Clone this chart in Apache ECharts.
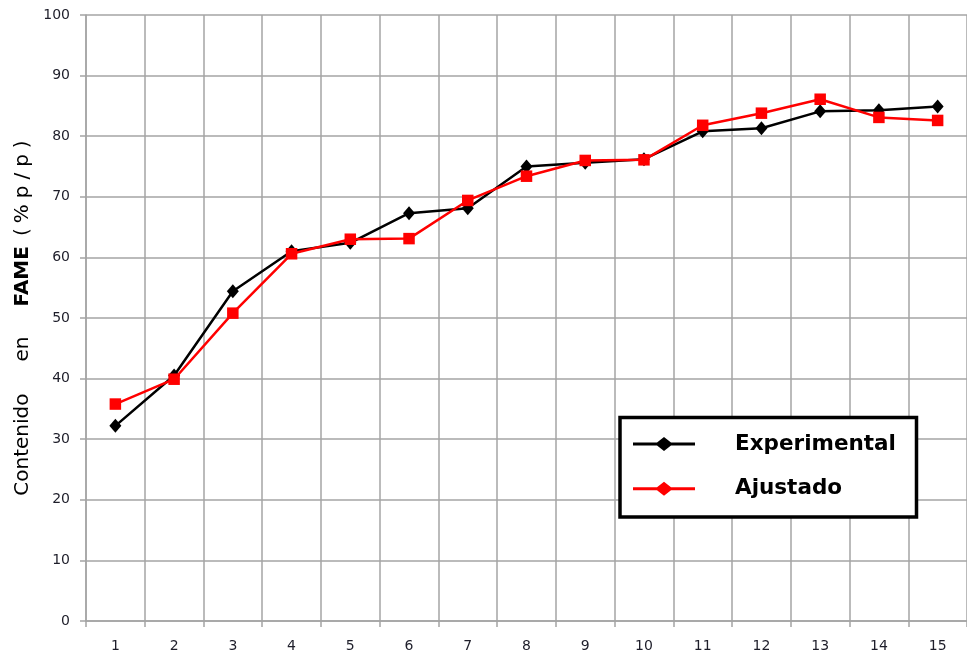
<!DOCTYPE html>
<html>
<head>
<meta charset="utf-8">
<script src="https://cdn.jsdelivr.net/npm/echarts@6/dist/echarts.min.js"></script>
<style>
  html, body { margin: 0; padding: 0; background: #fff; }
  #chart { width: 967px; height: 656px; }
</style>
</head>
<body>
<div id="chart"></div>
<script>
// Sample numbers along the x axis
const categories = ['1','2','3','4','5','6','7','8','9','10','11','12','13','14','15'];

// FAME content (% w/w): measured vs. fitted model
const experimental = [32.2, 40.5, 54.4, 61.0, 62.4, 67.3, 68.1, 75.0, 75.6, 76.2, 80.8, 81.3, 84.1, 84.3, 84.9];
const ajustado     = [35.8, 39.9, 50.8, 60.6, 63.0, 63.1, 69.4, 73.4, 76.0, 76.1, 81.8, 83.8, 86.1, 83.1, 82.6];

const seriesNames = ['Experimental', 'Ajustado'];
const seriesColors = ['#000000', '#ff0000'];

// Legend glyph: a short line crossed by a diamond
const legendGlyph = 'path://M0 5.5 H24 L31 0 L38 5.5 H62 V8.5 H38 L31 14 L24 8.5 H0 Z';

const gridColor = '#a4a4a4';
const labelColor = '#1e1e2a';
const titleFont = 'DejaVu Sans';

const chart = echarts.init(document.getElementById('chart'), null, { renderer: 'canvas' });

chart.setOption({
  animation: false,
  backgroundColor: '#ffffff',
  grid: { left: 86, top: 15, width: 888.6, height: 606, containLabel: false },
  xAxis: {
    type: 'category',
    data: categories,
    boundaryGap: true,
    axisLine: { show: true, lineStyle: { color: gridColor, width: 1.5 } },
    axisTick: { show: true, length: 6, lineStyle: { color: gridColor, width: 1.5 } },
    axisLabel: { color: labelColor, fontFamily: 'DejaVu Sans', fontSize: 14, margin: 18 },
    splitLine: { show: true, lineStyle: { color: gridColor, width: 1.5 } }
  },
  yAxis: {
    type: 'value',
    min: 0,
    max: 100,
    interval: 10,
    axisLine: { show: true, lineStyle: { color: gridColor, width: 1.5 } },
    axisTick: { show: true, length: 6, lineStyle: { color: gridColor, width: 1.5 } },
    axisLabel: { color: labelColor, fontFamily: 'DejaVu Sans', fontSize: 14, margin: 16 },
    splitLine: { show: true, lineStyle: { color: gridColor, width: 1.5 } },
    name: '{c|Contenido}{e|en}{f|FAME}{p|(}{q|%}{r|p}{r|/}{r|p}{r|)}',
    nameLocation: 'middle',
    nameRotate: 90,
    nameGap: 52,
    nameTextStyle: {
      color: '#000',
      fontFamily: titleFont,
      fontSize: 20,
      rich: {
        c: { fontFamily: titleFont, fontSize: 20, color: '#000' },
        e: { fontFamily: titleFont, fontSize: 20, color: '#000', padding: [0, 0, 0, 32] },
        f: { fontFamily: titleFont, fontSize: 20, fontWeight: 'bold', color: '#000', padding: [0, 0, 0, 30] },
        p: { fontFamily: titleFont, fontSize: 20, color: '#000', padding: [0, 0, 0, 10] },
        q: { fontFamily: titleFont, fontSize: 20, color: '#000', padding: [0, 0, 0, 5] },
        r: { fontFamily: titleFont, fontSize: 20, color: '#000', padding: [0, 0, 0, 6] }
      }
    }
  },
  legend: {
    orient: 'vertical',
    left: 633,
    top: 432,
    padding: 0,
    z: 20,
    itemWidth: 62,
    itemHeight: 14,
    itemGap: 20.7,
    selectedMode: false,
    textStyle: {
      fontFamily: 'DejaVu Sans',
      fontWeight: 'bold',
      fontSize: 21.5,
      color: '#000',
      lineHeight: 24,
      padding: [0, 0, 0, 35]
    },
    data: seriesNames.map(function (n) { return { name: n, icon: legendGlyph }; })
  },
  graphic: [{
    type: 'rect',
    z: 5,
    shape: { x: 620, y: 417.5, width: 296.5, height: 99.5 },
    style: { fill: '#ffffff', stroke: '#000000', lineWidth: 3.5 }
  }],
  series: [
    {
      name: seriesNames[0],
      type: 'line',
      data: experimental,
      symbol: 'diamond',
      symbolSize: [12, 14],
      color: seriesColors[0],
      lineStyle: { color: seriesColors[0], width: 2.5 },
      itemStyle: { color: seriesColors[0] },
      z: 3
    },
    {
      name: seriesNames[1],
      type: 'line',
      data: ajustado,
      symbol: 'rect',
      symbolSize: 11.5,
      color: seriesColors[1],
      lineStyle: { color: seriesColors[1], width: 2.5 },
      itemStyle: { color: seriesColors[1] },
      z: 4
    }
  ]
});
</script>
</body>
</html>
